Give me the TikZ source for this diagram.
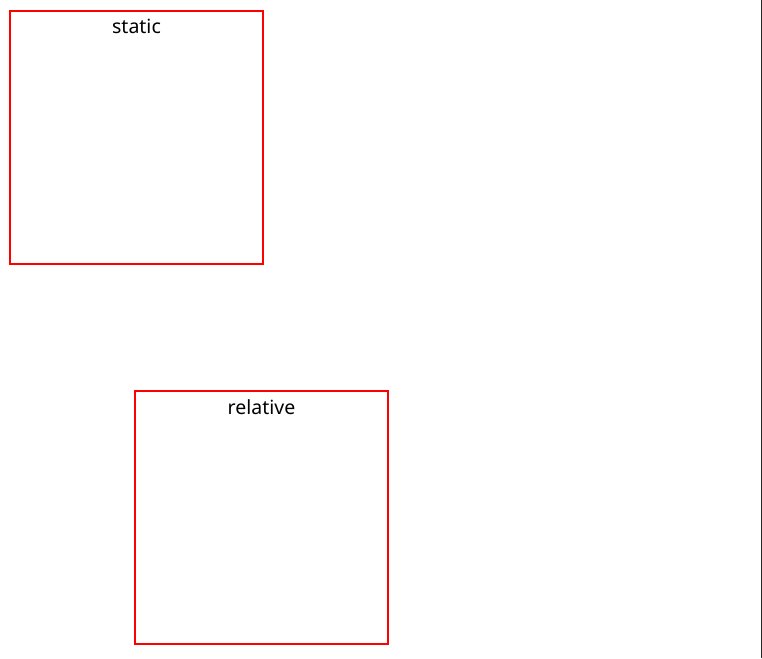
\documentclass[tikz,border=0pt]{standalone}
\usepackage{fontspec}
\setmainfont{Noto Sans}
\begin{document}
\begin{tikzpicture}[x=1pt,y=-1pt,
  box/.style={draw=red, line width=2pt},
  lbl/.style={anchor=base, inner sep=0pt, font=\fontsize{19.5}{23}\selectfont}]
\useasboundingbox (0,0) rectangle (762,658);
\draw[box] (10,11) rectangle (263,264);
\node[lbl] (s) at (136.5,34) {static};
\draw[box] (135,391) rectangle (388,644);
\node[lbl] (r) at (261.5,414) {relative};
\draw[line width=1pt, draw=black!85] (761.5,0) -- (761.5,658);
\end{tikzpicture}
\end{document}
